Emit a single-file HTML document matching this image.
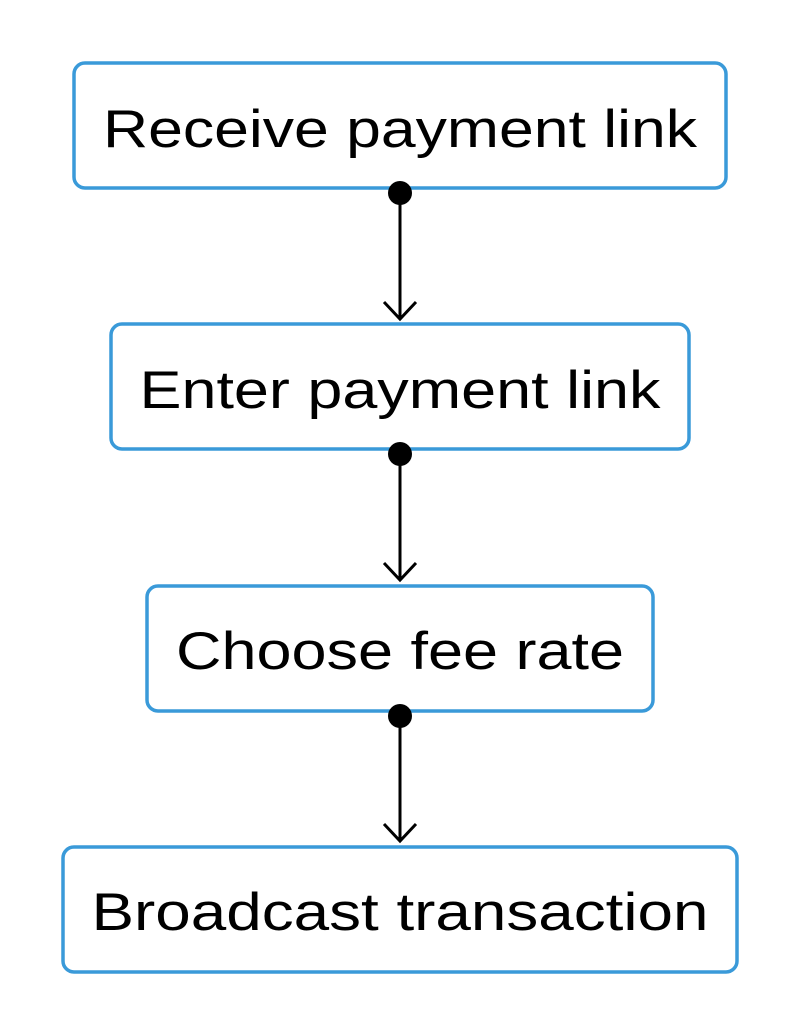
<!DOCTYPE html>
<html><head><meta charset="utf-8"><style>
html,body{margin:0;padding:0;background:#fff;}
svg{display:block;}
text{font-family:"Liberation Sans",sans-serif;font-size:53px;fill:#000;text-anchor:middle;}
</style></head><body>
<svg width="800" height="1035" viewBox="0 0 800 1035" xmlns="http://www.w3.org/2000/svg">
<g fill="#fff" stroke="#3a9ad9" stroke-width="3.5">
<rect x="74" y="63" width="652" height="125" rx="11"/>
<rect x="111" y="324" width="578" height="125" rx="11"/>
<rect x="147" y="586" width="506" height="125" rx="11"/>
<rect x="63" y="847" width="674" height="125" rx="11"/>
</g>
<text x="400" y="147" textLength="594" lengthAdjust="spacingAndGlyphs">Receive payment link</text>
<text x="400" y="408" textLength="521" lengthAdjust="spacingAndGlyphs">Enter payment link</text>
<text x="400" y="669" textLength="448" lengthAdjust="spacingAndGlyphs">Choose fee rate</text>
<text x="400" y="930" textLength="617" lengthAdjust="spacingAndGlyphs">Broadcast transaction</text>
<g stroke="#000" stroke-width="3" fill="none">
<line x1="400" y1="193" x2="400" y2="319"/>
<polyline points="384,302 400,319 416,302"/>
<line x1="400" y1="454" x2="400" y2="580"/>
<polyline points="384,563 400,580 416,563"/>
<line x1="400" y1="716" x2="400" y2="841"/>
<polyline points="384,824 400,841 416,824"/>
</g>
<g fill="#000">
<circle cx="400" cy="193" r="12"/>
<circle cx="400" cy="454" r="12"/>
<circle cx="400" cy="716" r="12"/>
</g>
</svg>
</body></html>
